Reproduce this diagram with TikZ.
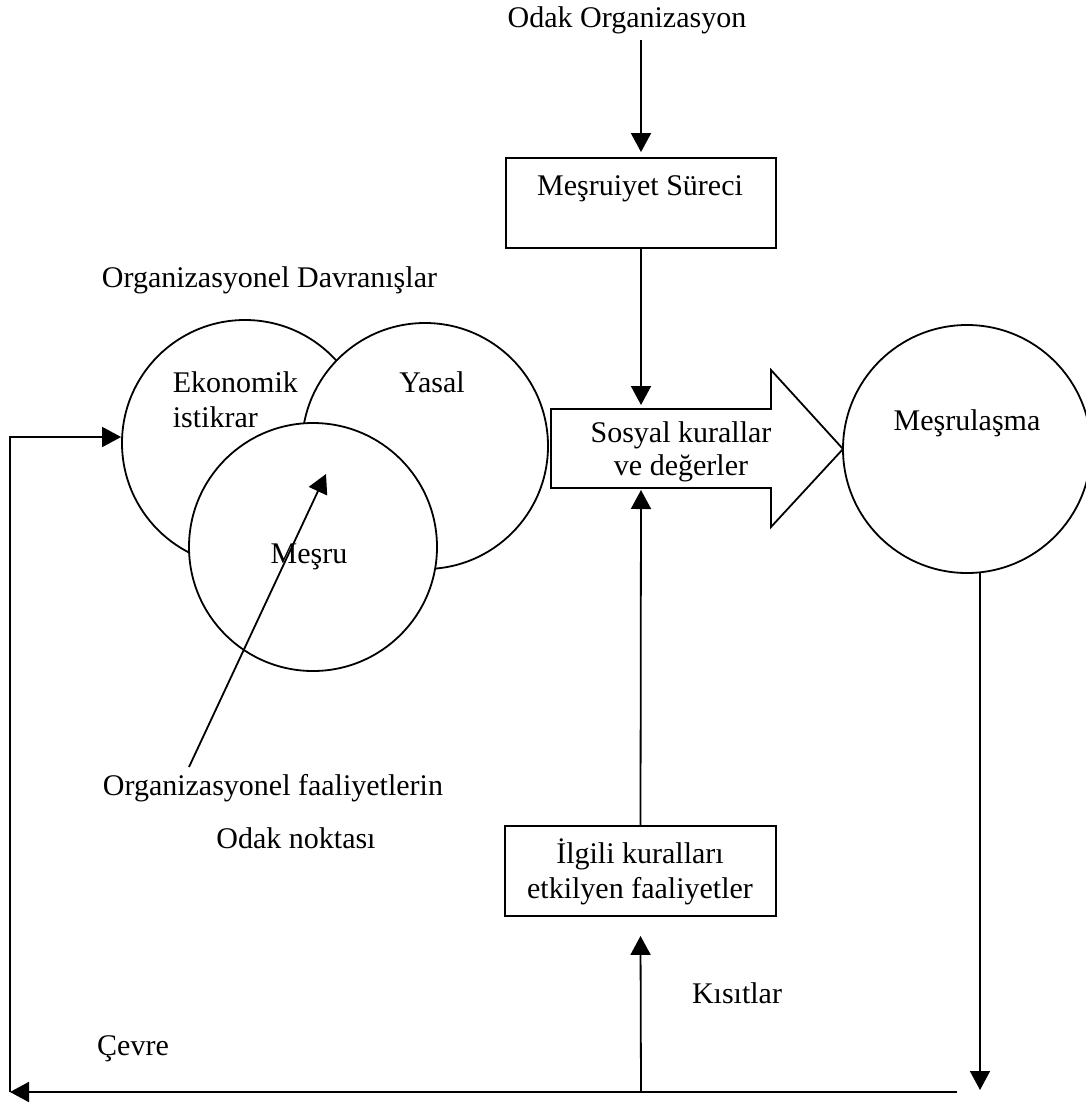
\documentclass[tikz,border=0pt]{standalone}
\usepackage{fontspec}
\setmainfont{Liberation Serif}
\usetikzlibrary{arrows.meta}
\begin{document}
\begin{tikzpicture}[x=1pt,y=-1pt,line width=1.8pt,
  lbl/.style={font=\fontsize{30}{34}\selectfont, inner sep=0pt, anchor=base},
  lblw/.style={lbl, anchor=base west},
  conn/.style={-{Triangle[width=20pt,length=19pt]}},
  box/.style={draw, rectangle, inner sep=0pt},
  ring/.style={draw, circle, fill=white, inner sep=0pt}]
\useasboundingbox (0,0) rectangle (1085,1103);

% top label and the legitimacy process box
\node[lbl] (odak) at (627,27) {Odak Organizasyon};
\node[box, minimum width=270pt, minimum height=90pt] (msBox) at (641,203) {};
\node[lbl] (msTxt) at (640,195) {Meşruiyet Süreci};

% organisational behaviour: three overlapping circles
\node[lblw] (davr) at (101,287) {Organizasyonel Davranışlar};
\node[ring, minimum size=246pt] (ek) at (245,443) {};
\node[ring, minimum size=246pt] (ya) at (425,446) {};
\node[ring, minimum size=248pt] (me) at (313,547) {};
\node[lblw] (ekA) at (172,392) {Ekonomik};
\node[lblw] (ekB) at (172,427) {istikrar};
\node[lbl] (yaTxt) at (432,392) {Yasal};
\node[lbl] (meTxt) at (309,563) {Meşru};

% social rules and values: block arrow
\coordinate (sosTop) at (641,409);
\coordinate (sosBot) at (641,488);
\draw[fill=white] (551,409) -- (771,409) -- (771,370) -- (843,449)
  -- (771,527) -- (771,488) -- (551,488) -- cycle;
\node[lbl] (sosA) at (681,442) {Sosyal kurallar};
\node[lbl] (sosB) at (681,475) {ve değerler};

% legitimation
\node[ring, minimum size=248pt] (ml) at (967,449) {};
\node[lbl] (mlTxt) at (967,430) {Meşrulaşma};

% activities affecting the relevant rules
\node[box, minimum width=271pt, minimum height=90pt] (ilBox) at (640.5,871) {};
\node[lbl] (ilA) at (640,863) {İlgili kuralları};
\node[lbl] (ilB) at (640,898) {etkilyen faaliyetler};

% free labels
\node[lblw] (faal) at (102,795) {Organizasyonel faaliyetlerin};
\node[lbl] (nokta) at (296,848) {Odak noktası};
\node[lbl] (kisit) at (737,1003) {Kısıtlar};
\node[lbl] (cevre) at (133,1055) {Çevre};

% connectors
\coordinate (odakOut) at (641,40);
\draw[conn] (odakOut) -- ([yshift=5pt]msBox.north);
\draw[conn] (msBox.south) -- ([yshift=4pt]sosTop);
\draw[conn] (ilBox.north) -- ([yshift=-2pt]sosBot);

\coordinate (focusStart) at (189,767);
\coordinate (focusEnd) at (326,474);
\draw[conn] (focusStart) -- (focusEnd);

\coordinate (mlDown) at (980,1090);
\draw[conn] (ml.-84) -- (mlDown);

\coordinate (envRight) at (957,1092);
\coordinate (envLeft) at (10,1092);
\coordinate (envJoin) at (641,1092);
\draw[conn] (envRight) -- (envLeft);
\draw[conn] (envLeft) |- ([yshift=6pt]ek.west);
\draw[conn] (envJoin) -- ([yshift=-19pt]ilBox.south);
\end{tikzpicture}
\end{document}
